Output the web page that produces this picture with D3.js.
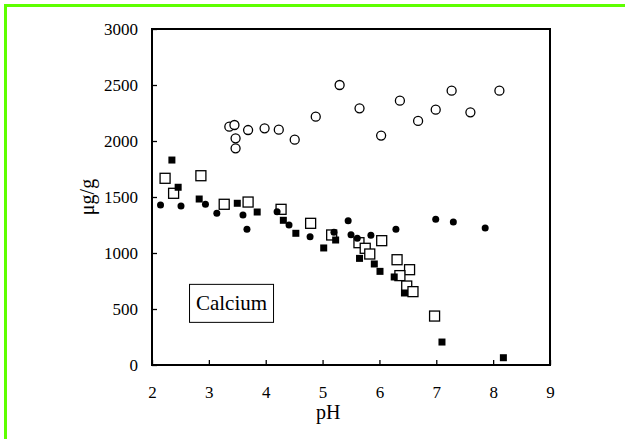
<!DOCTYPE html>
<html>
<head>
<meta charset="utf-8">
<script src="https://cdn.jsdelivr.net/npm/d3@7"></script>
<style>
  body { margin: 0; background: #fff; }
  svg { display: block; }
</style>
</head>
<body>
<div id="chart"></div>
<script>
// tick values
var xTicks = [2, 3, 4, 5, 6, 7, 8, 9];
var yTicks = [0, 500, 1000, 1500, 2000, 2500, 3000];

// open circles
var openCircle = [
  [3.36, 2128], [3.45, 2143], [3.47, 2024], [3.47, 1935], [3.69, 2098],
  [3.98, 2113], [4.23, 2101], [4.51, 2012], [4.88, 2217], [5.30, 2500],
  [5.65, 2292], [6.03, 2048], [6.36, 2360], [6.68, 2179], [6.99, 2280],
  [7.27, 2449], [7.60, 2256], [8.11, 2449]
];

// open squares
var openSquare = [
  [2.23, 1667], [2.38, 1533], [2.86, 1690], [3.27, 1435], [3.69, 1455],
  [4.27, 1390], [4.79, 1265], [5.16, 1161], [5.64, 1092], [5.75, 1042],
  [6.04, 1110], [5.83, 991], [6.31, 940], [6.53, 851], [6.36, 798],
  [6.48, 705], [6.59, 655], [6.97, 437]
];

// filled squares
var filledSquare = [
  [2.35, 1830], [2.46, 1587], [2.83, 1482], [3.50, 1444], [3.85, 1366],
  [4.31, 1292], [4.53, 1176], [5.02, 1045], [5.23, 1116], [5.65, 952],
  [5.91, 902], [6.01, 836], [6.26, 786], [6.44, 643], [7.10, 205],
  [8.18, 65]
];

// filled circles
var filledCircle = [
  [2.15, 1429], [2.51, 1420], [2.94, 1435], [3.14, 1354], [3.60, 1339],
  [3.67, 1212], [4.20, 1369], [4.41, 1250], [4.78, 1146], [5.20, 1185],
  [5.45, 1289], [5.50, 1164], [5.61, 1131], [5.85, 1158], [6.29, 1211],
  [6.99, 1301], [7.30, 1277], [7.86, 1223]
];

var W = 625, H = 439;
var margin = { top: 29, right: 75, bottom: 74, left: 152 },
  width = 550 - margin.left,
  height = 365 - margin.top;

var svg = d3.select("#chart")
  .append("svg")
  .attr("width", W)
  .attr("height", H);

// green frame around the picture
svg.append("path")
  .attr("d", "M5.5," + H + " V5.5 H" + W)
  .attr("fill", "none")
  .attr("stroke", "#5eff00")
  .attr("stroke-width", 3);

var g = svg.append("g")
  .attr("transform", "translate(" + margin.left + "," + margin.top + ")");

var x = d3.scaleLinear().domain([2, 9]).range([0, width]);
var y = d3.scaleLinear().domain([0, 3000]).range([height, 0]);

var font = "'Liberation Serif', 'Times New Roman', serif";

// plot box
g.append("rect")
  .attr("x", 0).attr("y", 0)
  .attr("width", width).attr("height", height)
  .attr("fill", "none")
  .attr("stroke", "#000")
  .attr("stroke-width", 2);

// x axis, ticks point inward
var xAxis = g.append("g")
  .attr("transform", "translate(0," + height + ")")
  .call(d3.axisBottom(x).tickValues(xTicks).tickSize(-5).tickPadding(21).tickFormat(d3.format("d")));
xAxis.select(".domain").remove();
xAxis.selectAll("line").attr("stroke-width", 1.3);
xAxis.selectAll("text").attr("font-family", font).attr("font-size", 17).attr("fill", "#000");

// y axis
var yAxis = g.append("g")
  .call(d3.axisLeft(y).tickValues(yTicks).tickSize(-5).tickPadding(14).tickFormat(d3.format("d")));
yAxis.select(".domain").remove();
yAxis.selectAll("line").attr("stroke-width", 1.3);
yAxis.selectAll("text").attr("font-family", font).attr("font-size", 17).attr("fill", "#000");

// axis titles
g.append("text")
  .attr("x", x(5.1)).attr("y", height + 54)
  .attr("text-anchor", "middle")
  .attr("font-family", font).attr("font-size", 20)
  .text("pH");

g.append("text")
  .attr("transform", "translate(-58," + y(1500) + ") rotate(-90)")
  .attr("text-anchor", "middle")
  .attr("font-family", font).attr("font-size", 20)
  .text("μg/g");

// Calcium label box
var lab = g.append("g").attr("transform", "translate(" + x(2.66) + "," + y(720) + ")");
lab.append("rect")
  .attr("width", 84).attr("height", 38)
  .attr("fill", "#fff").attr("stroke", "#000").attr("stroke-width", 1);
lab.append("text")
  .attr("x", 42).attr("y", 26)
  .attr("text-anchor", "middle")
  .attr("font-family", font).attr("font-size", 21)
  .text("Calcium");

// markers
g.selectAll(".oc").data(openCircle).enter().append("circle")
  .attr("cx", function (d) { return x(d[0]); })
  .attr("cy", function (d) { return y(d[1]); })
  .attr("r", 4.5)
  .attr("fill", "#fff").attr("stroke", "#000").attr("stroke-width", 1.3);

g.selectAll(".os").data(openSquare).enter().append("rect")
  .attr("x", function (d) { return x(d[0]) - 5; })
  .attr("y", function (d) { return y(d[1]) - 5; })
  .attr("width", 10).attr("height", 10)
  .attr("fill", "#fff").attr("stroke", "#000").attr("stroke-width", 1.3);

g.selectAll(".fs").data(filledSquare).enter().append("rect")
  .attr("x", function (d) { return x(d[0]) - 3.5; })
  .attr("y", function (d) { return y(d[1]) - 3.5; })
  .attr("width", 7).attr("height", 7)
  .attr("fill", "#000");

g.selectAll(".fc").data(filledCircle).enter().append("circle")
  .attr("cx", function (d) { return x(d[0]); })
  .attr("cy", function (d) { return y(d[1]); })
  .attr("r", 3.5)
  .attr("fill", "#000");
</script>
</body>
</html>
